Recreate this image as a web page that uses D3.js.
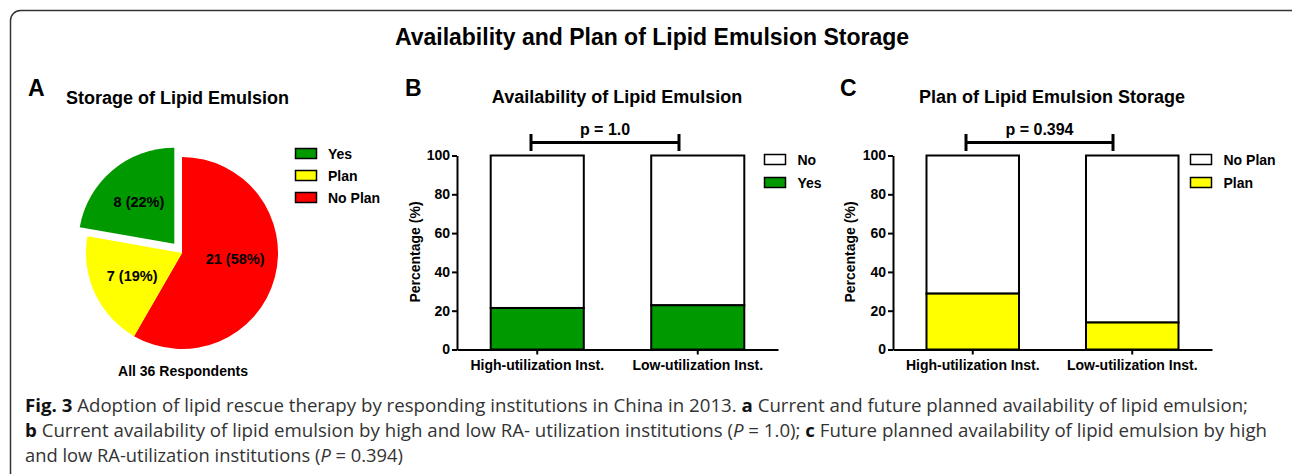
<!DOCTYPE html>
<html>
<head>
<meta charset="utf-8">
<script src="https://cdn.jsdelivr.net/npm/d3@7"></script>
<style>
  body { margin: 0; background: #fff; }
  text { font-family: "Liberation Sans", Arial, sans-serif; }
</style>
</head>
<body>
<script>
// pie (panel A)
var pieLabels = ["Yes", "Plan", "No Plan"];
var pieCounts = [8, 7, 21];
var pieColors = ["#009900", "#ffff00", "#ff0000"];

// bar panels (B, C)
var barCategories = ["High-utilization Inst.", "Low-utilization Inst."];
var availYes = [21.4, 22.8];
var planYes = [28.8, 13.9];
var yTicks = [0, 20, 40, 60, 80, 100];

var svg = d3.select('body').append('svg')
    .attr('width', 1292)
    .attr('height', 474)

// frame
svg.append('rect')
    .attr('x', 10.5).attr('y', 10.5)
    .attr('width', 1290).attr('height', 490)
    .attr('rx', 10)
    .attr('fill', 'none')
    .attr('stroke', '#333')
    .attr('stroke-width', 1.5)

svg.append('text')
    .attr('x', 652).attr('y', 45)
    .attr('text-anchor', 'middle')
    .style('font-size', '23px').style('font-weight', 'bold')
    .text('Availability and Plan of Lipid Emulsion Storage')

// panel letters
var letters = [['A', 28], ['B', 405], ['C', 840]]
svg.selectAll('.letter')
    .data(letters)
    .enter()
    .append('text')
    .attr('class', 'letter')
    .attr('x', function(d){ return d[1] })
    .attr('y', 96)
    .style('font-size', '23px').style('font-weight', 'bold')
    .text(function(d){ return d[0] })


// ---------- panel A ----------
svg.append('text')
    .attr('x', 66).attr('y', 104)
    .style('font-size', '18px').style('font-weight', 'bold')
    .text('Storage of Lipid Emulsion')

var total = d3.sum(pieCounts)
var cx = 182, cy = 253, r = 96

// drawn clockwise from 12 o'clock: No Plan, Plan, Yes
var order = [2, 1, 0]
var pie = d3.pie().sort(null).value(function(i){ return pieCounts[i] })
var arcs = pie(order)
var arc = d3.arc().innerRadius(0).outerRadius(r)
var labelArc = d3.arc().innerRadius(55).outerRadius(55)

var pieG = svg.append('g').attr('transform', 'translate(' + cx + ',' + cy + ')')

pieG.selectAll('path')
    .data(arcs)
    .enter()
    .append('path')
    .attr('transform', function(d){
      if (d.data != 0) return null
      var mid = (d.startAngle + d.endAngle) / 2
      return 'translate(' + (12 * Math.sin(mid)) + ',' + (-12 * Math.cos(mid)) + ')'
    })
    .attr('d', arc)
    .attr('fill', function(d){ return pieColors[d.data] })

pieG.selectAll('text')
    .data(arcs)
    .enter()
    .append('text')
    .attr('transform', function(d){
      var c = labelArc.centroid(d)
      if (d.data == 0) {
        var mid = (d.startAngle + d.endAngle) / 2
        c[0] += 12 * Math.sin(mid); c[1] -= 12 * Math.cos(mid)
      }
      if (d.data == 2) c[1] -= 8
      return 'translate(' + c[0] + ',' + c[1] + ')'
    })
    .attr('text-anchor', 'middle')
    .attr('dy', '0.35em')
    .style('font-size', '14.5px').style('font-weight', 'bold')
    .text(function(d){
      return pieCounts[d.data] + ' (' + Math.round(pieCounts[d.data] / total * 100) + '%)'
    })

svg.append('text')
    .attr('x', 183).attr('y', 376)
    .attr('text-anchor', 'middle')
    .style('font-size', '14px').style('font-weight', 'bold')
    .text('All ' + total + ' Respondents')

var legA = svg.append('g')
legA.selectAll('rect')
    .data(pieLabels)
    .enter()
    .append('rect')
    .attr('x', 295.5)
    .attr('y', function(d, i){ return 148.5 + i * 22 })
    .attr('width', 21).attr('height', 10)
    .attr('fill', function(d, i){ return pieColors[i] })
    .attr('stroke', '#000').attr('stroke-width', 1.5)
legA.selectAll('text')
    .data(pieLabels)
    .enter()
    .append('text')
    .attr('x', 328)
    .attr('y', function(d, i){ return 158.5 + i * 22 })
    .style('font-size', '14px').style('font-weight', 'bold')
    .text(function(d){ return d })


// ---------- panels B, C ----------
function drawBars(cfg) {
  var xScale = d3.scaleBand()
      .domain(barCategories)
      .range([cfg.left, cfg.right])
      .paddingInner(0.42)
      .paddingOuter(0.21)

  var yScale = d3.scaleLinear()
      .domain([0, 100])
      .range([349.5, 155.5])

  svg.append('text')
      .attr('x', cfg.titleX).attr('y', 103)
      .attr('text-anchor', 'middle')
      .style('font-size', '18px').style('font-weight', 'bold')
      .text(cfg.title)

  // stacked bars: white remainder then coloured part
  var g = svg.append('g')
  g.selectAll('.rest')
      .data(barCategories)
      .enter()
      .append('rect')
      .attr('x', function(d){ return xScale(d) })
      .attr('y', yScale(100))
      .attr('width', xScale.bandwidth())
      .attr('height', function(d, i){ return yScale(cfg.values[i]) - yScale(100) })
      .attr('fill', '#fff')
      .attr('stroke', '#000').attr('stroke-width', 2)
  g.selectAll('.part')
      .data(barCategories)
      .enter()
      .append('rect')
      .attr('x', function(d){ return xScale(d) })
      .attr('y', function(d, i){ return yScale(cfg.values[i]) })
      .attr('width', xScale.bandwidth())
      .attr('height', function(d, i){ return yScale(0) - yScale(cfg.values[i]) })
      .attr('fill', cfg.color)
      .attr('stroke', '#000').attr('stroke-width', 2)

  var yAxis = d3.axisLeft(yScale).tickValues(yTicks).tickSize(5).tickSizeOuter(0).tickPadding(2)
  var ya = svg.append('g')
      .attr('transform', 'translate(' + cfg.left + ',0)')
      .call(yAxis)
  var xAxis = d3.axisBottom(xScale).tickSize(5).tickSizeOuter(0).tickPadding(6)
  var xa = svg.append('g')
      .attr('transform', 'translate(0,' + yScale(0) + ')')
      .call(xAxis)
  ;[ya, xa].forEach(function(a){
    a.selectAll('path, line').attr('stroke', '#000').attr('stroke-width', 2)
    a.selectAll('text')
        .style('font-family', '"Liberation Sans", Arial, sans-serif')
        .style('font-size', '14px').style('font-weight', 'bold')
        .attr('fill', '#000')
  })

  svg.append('text')
      .attr('transform', 'translate(' + cfg.ylabelX + ',252) rotate(-90)')
      .attr('text-anchor', 'middle')
      .attr('dy', '0.35em')
      .style('font-size', '14px').style('font-weight', 'bold')
      .text('Percentage (%)')

  // significance bracket
  var b = svg.append('g').attr('stroke', '#000').attr('stroke-width', 3)
  b.append('line').attr('x1', cfg.brL).attr('x2', cfg.brR).attr('y1', 142.5).attr('y2', 142.5)
  b.append('line').attr('x1', cfg.brL).attr('x2', cfg.brL).attr('y1', 134).attr('y2', 151)
  b.append('line').attr('x1', cfg.brR).attr('x2', cfg.brR).attr('y1', 134).attr('y2', 151)
  svg.append('text')
      .attr('x', (cfg.brL + cfg.brR) / 2).attr('y', 135)
      .attr('text-anchor', 'middle')
      .style('font-size', '16px').style('font-weight', 'bold')
      .text(cfg.p)

  // legend
  var leg = svg.append('g')
  leg.selectAll('rect')
      .data(cfg.legend)
      .enter()
      .append('rect')
      .attr('x', cfg.legX)
      .attr('y', function(d, i){ return 154.5 + i * 23 })
      .attr('width', 21).attr('height', 10)
      .attr('fill', function(d, i){ return i == 0 ? '#fff' : cfg.color })
      .attr('stroke', '#000').attr('stroke-width', 1.5)
  leg.selectAll('text')
      .data(cfg.legend)
      .enter()
      .append('text')
      .attr('x', cfg.legX + 33)
      .attr('y', function(d, i){ return 164.5 + i * 23 })
      .style('font-size', '14px').style('font-weight', 'bold')
      .text(function(d){ return d })
}

drawBars({
  left: 457, right: 778, titleX: 617, title: 'Availability of Lipid Emulsion',
  values: availYes, color: '#009900', ylabelX: 415,
  brL: 531, brR: 679, p: 'p = 1.0',
  legX: 764.5, legend: ['No', 'Yes']
})
drawBars({
  left: 893, right: 1212, titleX: 1052, title: 'Plan of Lipid Emulsion Storage',
  values: planYes, color: '#ffff00', ylabelX: 850,
  brL: 966, brR: 1113, p: 'p = 0.394',
  legX: 1190.5, legend: ['No Plan', 'Plan']
})


// ---------- caption ----------
var captionLines = [
  [['Fig. 3', true], [' Adoption of lipid rescue therapy by responding institutions in China in 2013. ', false], ['a', true], [' Current and future planned availability of lipid emulsion;', false]],
  [['b', true], [' Current availability of lipid emulsion by high and low RA- utilization institutions (', false], ['P', false, true], [' = 1.0); ', false], ['c', true], [' Future planned availability of lipid emulsion by high', false]],
  [['and low RA-utilization institutions (', false], ['P', false, true], [' = 0.394)', false]]
]
var captionWidths = [1223, 1242, 378]

var cap = svg.append('g')
cap.selectAll('text')
    .data(captionLines)
    .enter()
    .append('text')
    .attr('x', 25)
    .attr('y', function(d, i){ return 412 + i * 25 })
    .attr('textLength', function(d, i){ return captionWidths[i] })
    .attr('lengthAdjust', 'spacingAndGlyphs')
    .style('font-family', '"Open Sans", sans-serif')
    .style('font-size', '18px')
    .attr('fill', '#333')
    .each(function(line){
      d3.select(this).selectAll('tspan')
          .data(line)
          .enter()
          .append('tspan')
          .style('font-weight', function(s){ return s[1] ? 'bold' : null })
          .style('font-style', function(s){ return s[2] ? 'italic' : null })
          .attr('fill', function(s){ return s[1] ? '#111' : null })
          .text(function(s){ return s[0] })
    })
</script>
</body>
</html>
